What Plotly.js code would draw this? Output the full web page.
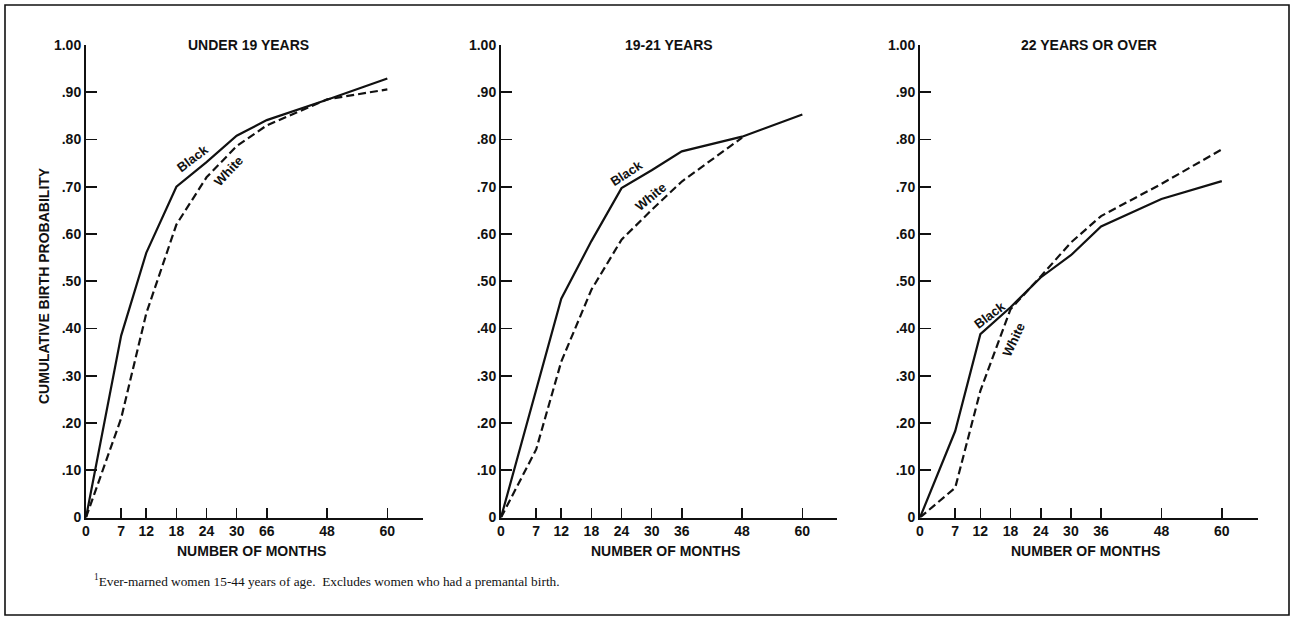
<!DOCTYPE html>
<html>
<head>
<meta charset="utf-8">
<script src="https://cdn.plot.ly/plotly-3.0.1.min.js"></script>
<style>
  html, body { margin: 0; padding: 0; background: #fff; }
  #chart { width: 1296px; height: 617px; }
</style>
</head>
<body>
<div id="chart"></div>
<script>
// ---- Data ----
const months = [0, 7, 12, 18, 24, 30, 36, 48, 60];

const panelTitles = ["UNDER 19 YEARS", "19-21 YEARS", "22 YEARS OR OVER"];

// Panel 1: under 19 years
const under19Black = [0, 0.385, 0.56, 0.70, 0.752, 0.808, 0.841, 0.884, 0.929];
const under19White = [0, 0.21, 0.432, 0.62, 0.72, 0.786, 0.83, 0.885, 0.906];

// Panel 2: 19-21 years
const age1921Black = [0, 0.27, 0.463, 0.585, 0.697, 0.735, 0.775, 0.806, 0.853];
const age1921White = [0, 0.144, 0.33, 0.482, 0.588, 0.651, 0.711, 0.804, null];

// Panel 3: 22 years or over
const over22Black = [0, 0.183, 0.388, 0.445, 0.508, 0.555, 0.616, 0.674, 0.712];
const over22White = [0, 0.063, 0.268, 0.441, 0.51, 0.582, 0.638, 0.706, 0.779];

// Tick labels (panel 1 shows "66" at the 36-month tick, as printed)
const xTickTextP1 = ["0", "7", "12", "18", "24", "30", "66", "48", "60"];
const xTickText = ["0", "7", "12", "18", "24", "30", "36", "48", "60"];
const yTickVals = [0, 0.1, 0.2, 0.3, 0.4, 0.5, 0.6, 0.7, 0.8, 0.9, 1.0];
const yTickText = ["0", ".10", ".20", ".30", ".40", ".50", ".60", ".70", ".80", ".90", "1.00"];

const yTitle = "CUMULATIVE BIRTH PROBABILITY";
const xTitle = "NUMBER OF MONTHS";
const footnote = "<sup>1</sup>Ever-marned women 15-44 years of age.  Excludes women who had a premantal birth.";

// ---- Layout helpers (pixel geometry) ----
const W = 1296, H = 617;
const px = v => v / W;
const py = v => 1 - v / H;

const panels = [
  {x0: 86,  x1: 423,  xmax: 67.1, black: under19Black, white: under19White, ticktext: xTickTextP1},
  {x0: 501, x1: 837,  xmax: 66.9, black: age1921Black, white: age1921White, ticktext: xTickText},
  {x0: 920, x1: 1258, xmax: 67.2, black: over22Black,  white: over22White,  ticktext: xTickText}
];

const sans = "Liberation Sans, Arial, Helvetica, sans-serif";
const ink = "#111111";
const labelFont = {family: sans, size: 14, color: ink, weight: 700};

const data = [];
const layout = {
  width: W, height: H,
  margin: {l: 0, r: 0, t: 0, b: 0},
  paper_bgcolor: "#ffffff",
  plot_bgcolor: "rgba(0,0,0,0)",
  showlegend: false,
  font: {family: sans, color: ink, size: 14},
  annotations: [],
  shapes: [{
    type: "rect", xref: "paper", yref: "paper",
    x0: px(5), x1: px(1289), y0: py(615), y1: py(5),
    line: {color: ink, width: 1.6}
  }]
};

panels.forEach((p, i) => {
  const n = i + 1;
  const xa = n === 1 ? "x" : "x" + n;
  const ya = n === 1 ? "y" : "y" + n;
  data.push({
    x: months, y: p.black, xaxis: xa, yaxis: ya, type: "scatter", mode: "lines",
    line: {color: ink, width: 2.2}, cliponaxis: false, connectgaps: false, hoverinfo: "skip"
  });
  data.push({
    x: months, y: p.white, xaxis: xa, yaxis: ya, type: "scatter", mode: "lines",
    line: {color: ink, width: 2.2, dash: "8px,4px"}, cliponaxis: false, connectgaps: false, hoverinfo: "skip"
  });
  layout["xaxis" + (n === 1 ? "" : n)] = {
    domain: [px(p.x0), px(p.x1)], range: [0, p.xmax], anchor: ya,
    tickmode: "array", tickvals: months, ticktext: p.ticktext,
    ticks: "inside", ticklen: 10, tickwidth: 1.6, tickcolor: ink,
    showline: true, linecolor: ink, linewidth: 2,
    showgrid: false, zeroline: false, fixedrange: true,
    tickfont: labelFont
  };
  layout["yaxis" + (n === 1 ? "" : n)] = {
    domain: [py(517.5), py(45)], range: [0, 1], anchor: xa,
    tickmode: "array", tickvals: yTickVals, ticktext: yTickText,
    ticks: "inside", ticklen: 11, tickwidth: 1.8, tickcolor: ink,
    showline: true, linecolor: ink, linewidth: 2,
    showgrid: false, zeroline: false, fixedrange: true,
    tickfont: labelFont
  };
  // Panel title
  layout.annotations.push({
    text: panelTitles[i], xref: "paper", yref: "paper",
    x: px((p.x0 + p.x1) / 2 - (i === 0 ? 6 : 0)), y: py(45), xanchor: "center", yanchor: "middle",
    showarrow: false, font: labelFont
  });
  // X axis title
  layout.annotations.push({
    text: xTitle, xref: "paper", yref: "paper",
    x: px(p.x0 + 165), y: py(551), xanchor: "center", yanchor: "middle",
    showarrow: false, font: labelFont
  });
});

// Y axis title (first panel only)
layout.annotations.push({
  text: yTitle, xref: "paper", yref: "paper", x: px(44), y: py(286),
  xanchor: "center", yanchor: "middle", textangle: -90, showarrow: false,
  font: labelFont
});

// Line labels
const lineLabels = [
  {t: "Black", x: 192.5, y: 158.5, a: -37},
  {t: "White", x: 228,   y: 171.5, a: -47},
  {t: "Black", x: 626,   y: 173.5, a: -33},
  {t: "White", x: 651,   y: 196.5, a: -40},
  {t: "Black", x: 989,   y: 315,   a: -37},
  {t: "White", x: 1013,  y: 340,   a: -65}
];
lineLabels.forEach(l => layout.annotations.push({
  text: l.t, xref: "paper", yref: "paper", x: px(l.x), y: py(l.y),
  xanchor: "center", yanchor: "middle", textangle: l.a, showarrow: false,
  font: {family: sans, size: 13, color: ink, weight: 700}
}));

// Footnote
layout.annotations.push({
  text: footnote, xref: "paper", yref: "paper", x: px(92), y: py(580),
  xanchor: "left", yanchor: "middle", showarrow: false,
  font: {family: "Liberation Serif, Times New Roman, serif", size: 13.3, color: ink}
});

Plotly.newPlot("chart", data, layout, {staticPlot: true, displayModeBar: false});
</script>
</body>
</html>
